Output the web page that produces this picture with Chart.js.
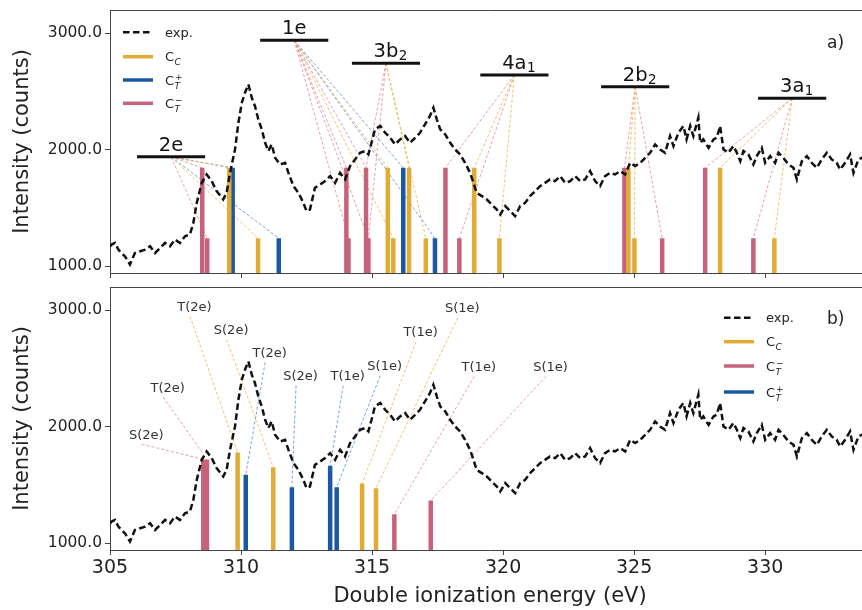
<!DOCTYPE html>
<html><head><meta charset="utf-8">
<script src="https://cdn.jsdelivr.net/npm/chart.js@4.4.1/dist/chart.umd.min.js"></script>
<style>
html,body{margin:0;padding:0;background:#fff;overflow:hidden;width:862px;height:610px}
#wrapA{position:absolute;left:0;top:0;width:870px;height:280px}
#wrapB{position:absolute;left:0;top:280px;width:870px;height:330px}
canvas{display:block}
</style></head><body>
<div id="wrapA"><canvas id="cA" width="870" height="280"></canvas></div>
<div id="wrapB"><canvas id="cB" width="870" height="330"></canvas></div>
<script>
// ---------------- data ----------------
const expEnergy = [305.00,305.06,305.19,305.32,305.45,305.57,305.76,305.95,306.15,306.34,306.53,306.72,306.91,307.10,307.29,307.48,307.67,307.86,308.05,308.18,308.31,308.50,308.69,308.88,309.07,309.32,309.45,309.58,309.77,309.90,310.03,310.15,310.28,310.41,310.53,310.66,310.79,310.92,311.04,311.17,311.30,311.49,311.68,311.81,312.00,312.19,312.38,312.50,312.63,312.82,313.02,313.21,313.40,313.59,313.78,313.97,314.16,314.35,314.54,314.73,314.86,314.98,315.11,315.31,315.50,315.69,315.88,316.07,316.26,316.45,316.64,316.83,317.02,317.21,317.34,317.47,317.60,317.79,317.98,318.17,318.36,318.55,318.74,318.87,318.99,319.19,319.38,319.57,319.76,319.89,320.08,320.27,320.46,320.65,320.84,321.03,321.22,321.41,321.60,321.79,321.98,322.18,322.37,322.56,322.75,322.94,323.13,323.32,323.51,323.70,323.89,324.08,324.27,324.47,324.66,324.85,325.04,325.23,325.42,325.61,325.80,325.99,326.18,326.37,326.50,326.69,326.88,327.00,327.14,327.26,327.45,327.52,327.64,327.84,328.03,328.15,328.28,328.41,328.60,328.79,328.92,329.05,329.17,329.36,329.55,329.68,329.87,330.00,330.19,330.38,330.51,330.69,330.89,331.08,331.21,331.40,331.59,331.78,331.97,332.16,332.35,332.54,332.73,332.86,333.05,333.24,333.37,333.56,333.69,334.00];
const expCounts = [1170,1186,1200,1143,1110,1086,1014,1114,1129,1143,1172,1114,1157,1200,1172,1229,1200,1258,1272,1372,1544,1716,1788,1731,1645,1573,1630,1802,2003,2232,2404,2490,2561,2447,2376,2261,2175,2060,1989,2046,1931,1874,1888,1802,1688,1630,1544,1473,1487,1673,1702,1731,1774,1716,1802,1745,1860,1917,1974,1989,1960,2060,2175,2204,2146,2103,2046,2089,2118,2060,2103,2146,2218,2290,2361,2261,2175,2132,2060,2003,1960,1888,1802,1716,1630,1602,1573,1530,1487,1444,1516,1473,1430,1516,1544,1602,1645,1688,1716,1745,1731,1774,1716,1731,1774,1731,1745,1817,1731,1688,1774,1802,1788,1817,1788,1888,1860,1888,1931,1974,2046,2003,1974,2118,2032,2146,2204,2089,2204,2118,2275,2060,2089,2017,2089,2103,2204,2003,1974,2032,1974,1903,1989,1960,1874,1946,2017,1888,1946,1888,1974,1931,1874,1845,1745,1903,1946,1888,1845,1917,1974,1917,1888,1831,1888,1960,1802,1917,1931,1900];

const xTicks = [305,310,315,320,325,330];
const yTicks = [1000,2000,3000];

// orbitals (panel a)
const orbitalMain   = ['2e','1e','3b','4a','2b','3a'];
const orbitalSub    = ['','','2','1','2','1'];
const orbitalCenter = [307.33,312.03,315.53,320.43,325.04,331.03];
const orbitalLevel  = [1939,2940,2742,2643,2540,2442];
const orbitalHalf   = 1.3;

// panel a sticks: energies, heights, linked orbital indices
const ccE_a   = [309.55,310.65,315.60,315.81,316.41,317.05,318.90,319.86,324.78,325.01,328.28,330.35];
const ccH_a   = [1845,1240,1845,1240,1845,1240,1845,1240,1845,1240,1845,1240];
const ccL_a   = [[0],[0],[1],[1],[2],[2],[3],[3],[4],[4],[5],[5]];
const ctpE_a  = [309.68,311.44,316.19,317.40];
const ctpH_a  = [1845,1240,1845,1240];
const ctpL_a  = [[0],[0],[1],[1]];
const ctmE_a  = [308.52,308.71,314.02,314.10,314.77,314.86,317.80,318.33,324.63,326.07,327.71,329.55];
const ctmH_a  = [1845,1240,1845,1240,1845,1240,1845,1240,1845,1240,1845,1240];
const ctmL_a  = [[0],[0],[1],[1],[1,2],[1,2],[3],[3],[4],[4],[5],[5]];

// panel b sticks
const ccE_b  = [309.87,311.23,314.62,315.15];
const ccH_b  = [1779,1653,1512,1473];
const ctpE_b = [310.18,311.94,313.40,313.65];
const ctpH_b = [1587,1481,1665,1481];
const ctmE_b = [308.56,308.70,315.85,317.24];
const ctmH_b = [1720,1720,1249,1367];

// panel b annotation labels: text, anchor (leader start), type, bar index
const labText_b = ['S(2e)','T(2e)','T(2e)','S(2e)','T(2e)','S(2e)','T(1e)','S(1e)','T(1e)','S(1e)','T(1e)','S(1e)'];
const labE_b    = [306.21,307.03,308.05,309.45,310.92,312.10,313.90,315.31,316.68,318.27,318.90,321.64];
const labI_b    = [1851,2255,2948,2748,2553,2353,2353,2439,2731,2935,2433,2433];
const labType_b = ['ctm','ctm','cc','cc','ctp','ctp','ctp','ctp','cc','cc','ctm','ctm'];
const labBar_b  = [0,1,0,1,0,1,2,3,2,3,2,3];

// ---------------- style ----------------
const FONT = '"DejaVu Sans", sans-serif';
const xMin = 305, xMax = 334, yMin = 942, yMax = 3200;
const COL = {cc:'#E2AB36', ctp:'#1B58A4', ctm:'#C6627A'};
const LCOL = {cc:'rgba(236,186,80,0.85)', ctp:'rgba(90,140,215,0.8)', ctm:'rgba(230,140,160,0.85)'};

function sticks(E,H){const d=[];E.forEach((e,i)=>{d.push({x:e,y:yMin},{x:e,y:H[i]},{x:e,y:null});});return d;}
function links(E,H,L){const d=[];E.forEach((e,i)=>L[i].forEach(o=>{d.push({x:orbitalCenter[o],y:orbitalLevel[o]},{x:e,y:H[i]},{x:e,y:null});}));return d;}
function orbitalBars(){const d=[];orbitalCenter.forEach((c,i)=>{d.push({x:c-orbitalHalf,y:orbitalLevel[i]},{x:c+orbitalHalf,y:orbitalLevel[i]},{x:c,y:null});});return d;}
function leaders(type){const d=[];const src={cc:[ccE_b,ccH_b],ctp:[ctpE_b,ctpH_b],ctm:[ctmE_b,ctmH_b]}[type];
  labType_b.forEach((t,i)=>{if(t!==type)return;const b=labBar_b[i];d.push({x:labE_b[i],y:labI_b[i]},{x:src[0][b],y:src[1][b]},{x:src[0][b],y:null});});return d;}
const expData = expEnergy.map((e,i)=>({x:e,y:expCounts[i]}));

function base(extra){return Object.assign({pointRadius:0,pointHoverRadius:0,fill:false,tension:0,spanGaps:false},extra);}
function expDS(){return base({data:expData,borderColor:'#111',borderWidth:2.5,borderDash:[6.5,3.5],order:0});}
function stickDS(d,c){return base({data:d,borderColor:c,borderWidth:4.5,borderCapStyle:'butt',order:2});}
function linkDS(d,c){return base({data:d,borderColor:c,borderWidth:1,borderDash:[3,2],order:3});}

function scales(showX){
  return {
    x:{type:'linear',min:xMin,max:xMax,
      afterBuildTicks:s=>{s.ticks=xTicks.map(v=>({value:v}));},
      afterFit:s=>{s.height=showX?60:7;s.paddingLeft=0;s.paddingRight=0;},
      grid:{drawOnChartArea:false,drawTicks:true,tickLength:5,color:'#444',lineWidth:1},
      border:{display:true,color:'#444',width:1},
      ticks:{display:showX,color:'#222',font:{family:FONT,size:19},padding:2,maxRotation:0,autoSkip:false,callback:v=>String(v)},
      title:{display:showX,text:'Double ionization energy (eV)',color:'#222',font:{family:FONT,size:21},padding:{top:0,bottom:1}}
    },
    y:{type:'linear',min:yMin,max:yMax,
      afterBuildTicks:s=>{s.ticks=yTicks.map(v=>({value:v}));},
      afterFit:s=>{s.width=110;s.paddingTop=0;s.paddingBottom=0;},
      grid:{drawOnChartArea:false,drawTicks:true,tickLength:5,color:'#444',lineWidth:1},
      border:{display:true,color:'#444',width:1},
      ticks:{color:'#222',font:{family:FONT,size:15.5},padding:3,autoSkip:false,callback:v=>Number(v).toFixed(1)},
      title:{display:true,text:'Intensity (counts)',color:'#222',font:{family:FONT,size:21},padding:{top:10,bottom:0}}
    }
  };
}

function drawC(ctx,x,y,size,sub,sup){
  ctx.textAlign='left';ctx.textBaseline='alphabetic';
  ctx.font=size+'px '+FONT;ctx.fillText('C',x,y);
  const w=ctx.measureText('C').width;const s=Math.round(size*0.72);
  ctx.font='italic '+s+'px '+FONT;ctx.fillText(sub,x+w+0.5,y+size*0.3);
  if(sup){ctx.font=s+'px '+FONT;ctx.fillText(sup,x+w+0.8,y-size*0.38);}
}
function drawLegend(ctx,ca,keys,dx,rows){
  keys.forEach((k,i)=>{
    const yy=ca.top+rows[i];const x0=ca.left+dx;
    ctx.save();ctx.beginPath();ctx.moveTo(x0,yy);ctx.lineTo(x0+30,yy);
    if(k==='exp'){ctx.strokeStyle='#111';ctx.lineWidth=2.4;ctx.setLineDash([6.5,3.5]);}
    else{ctx.strokeStyle=COL[k];ctx.lineWidth=3.5;}
    ctx.stroke();ctx.restore();
    ctx.fillStyle='#222';
    const tx=x0+42, ty=yy+4.6;
    if(k==='exp'){ctx.font='13px '+FONT;ctx.textAlign='left';ctx.textBaseline='alphabetic';ctx.fillText('exp.',tx,ty);}
    else if(k==='cc'){drawC(ctx,tx,ty,13,'C',null);}
    else if(k==='ctp'){drawC(ctx,tx,ty,13,'T','+');}
    else {drawC(ctx,tx,ty,13,'T','\u2212');}
  });
}
function drawFrame(ctx,ca){
  ctx.save();ctx.strokeStyle='#444';ctx.lineWidth=1;ctx.beginPath();
  const t=Math.round(ca.top)+0.5, r=Math.round(ca.right)-0.5;
  ctx.moveTo(ca.left,t);ctx.lineTo(r,t);ctx.lineTo(r,ca.bottom);ctx.stroke();ctx.restore();
}

const plugA={id:'decorA',afterDatasetsDraw(chart){
  const {ctx,chartArea:ca,scales:{x,y}}=chart;
  ctx.save();drawFrame(ctx,ca);
  ctx.fillStyle='#111';
  orbitalCenter.forEach((c,i)=>{
    const px=x.getPixelForValue(c), py=y.getPixelForValue(orbitalLevel[i]);
    ctx.font='19.5px '+FONT;ctx.textAlign='left';ctx.textBaseline='alphabetic';
    const w=ctx.measureText(orbitalMain[i]).width;
    ctx.fillText(orbitalMain[i],px-w/2,py-6);
    if(orbitalSub[i]){ctx.font='13.5px '+FONT;ctx.fillText(orbitalSub[i],px+w/2+0.5,py-3);}
  });
  drawLegend(ctx,ca,['exp','cc','ctp','ctm'],13,[22.3,46.7,70,93.3]);
  ctx.fillStyle='#222';ctx.font='17px '+FONT;ctx.textAlign='left';ctx.textBaseline='alphabetic';
  ctx.fillText('a)',827,ca.top+38);
  ctx.restore();
}};
const plugB={id:'decorB',afterDatasetsDraw(chart){
  const {ctx,chartArea:ca,scales:{x,y}}=chart;
  ctx.save();drawFrame(ctx,ca);
  ctx.fillStyle='#333';ctx.font='13px '+FONT;ctx.textAlign='center';ctx.textBaseline='alphabetic';
  labText_b.forEach((t,i)=>{
    const px=x.getPixelForValue(labE_b[i]), py=y.getPixelForValue(labI_b[i]);
    ctx.fillText(t,px+4.5,py-5.5);
  });
  drawLegend(ctx,ca,['exp','cc','ctm','ctp'],614,[30.7,54.7,79,105]);
  ctx.fillStyle='#222';ctx.font='17px '+FONT;ctx.textAlign='left';
  ctx.fillText('b)',827,ca.top+37);
  ctx.restore();
}};

const common={responsive:false,animation:false,events:[],
  plugins:{legend:{display:false},tooltip:{enabled:false}}};

new Chart(document.getElementById('cA'),{
  type:'line',
  data:{datasets:[
    expDS(),
    base({data:orbitalBars(),borderColor:'#111',borderWidth:3,borderCapStyle:'butt',order:1}),
    stickDS(sticks(ccE_a,ccH_a),COL.cc),
    stickDS(sticks(ctpE_a,ctpH_a),COL.ctp),
    stickDS(sticks(ctmE_a,ctmH_a),COL.ctm),
    linkDS(links(ccE_a,ccH_a,ccL_a),LCOL.cc),
    linkDS(links(ctpE_a,ctpH_a,ctpL_a),LCOL.ctp),
    linkDS(links(ctmE_a,ctmH_a,ctmL_a),LCOL.ctm)
  ]},
  options:Object.assign({},common,{layout:{padding:{top:10,left:0,right:0,bottom:0}},scales:scales(false)}),
  plugins:[plugA]
});

new Chart(document.getElementById('cB'),{
  type:'line',
  data:{datasets:[
    expDS(),
    stickDS(sticks(ccE_b,ccH_b),COL.cc),
    stickDS(sticks(ctpE_b,ctpH_b),COL.ctp),
    stickDS(sticks(ctmE_b,ctmH_b),COL.ctm),
    linkDS(leaders('cc'),LCOL.cc),
    linkDS(leaders('ctp'),LCOL.ctp),
    linkDS(leaders('ctm'),LCOL.ctm)
  ]},
  options:Object.assign({},common,{layout:{padding:{top:7,left:0,right:0,bottom:0}},scales:scales(true)}),
  plugins:[plugB]
});
</script>
</body></html>
